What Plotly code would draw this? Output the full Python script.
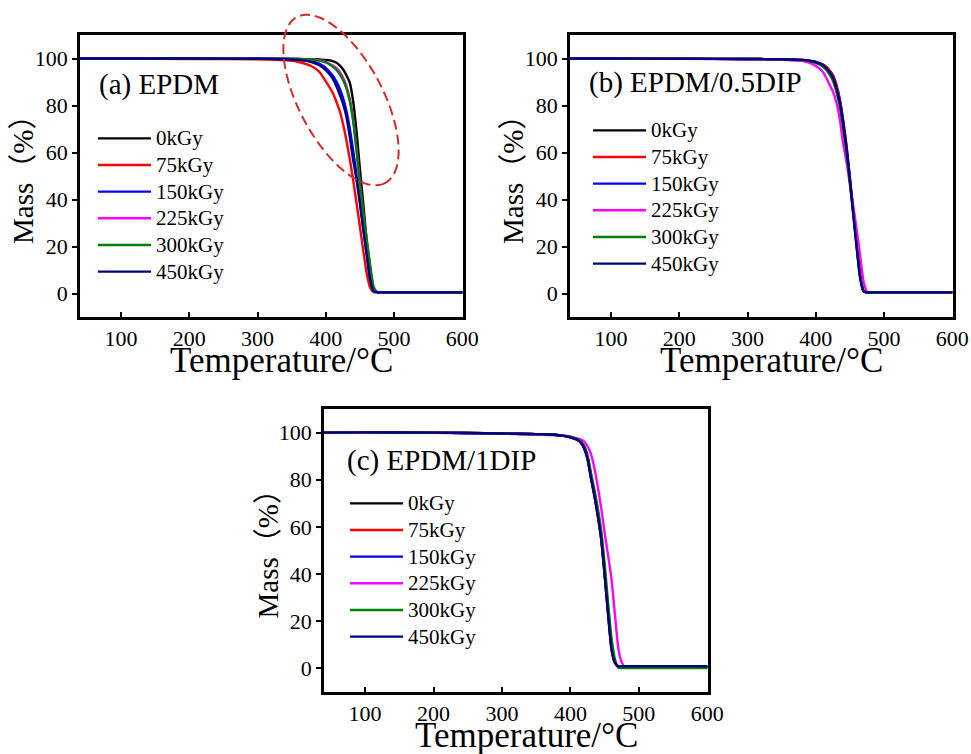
import math
import plotly.graph_objects as go

# Temperature grid (°C) shared by every TGA curve
temperature = [40, 100, 200, 300, 340, 360, 380, 390, 400, 410, 415, 420, 425,
               430, 435, 440, 445, 450, 455, 460, 465, 470, 475, 480, 500, 600]

doses = ["0kGy", "75kGy", "150kGy", "225kGy", "300kGy", "450kGy"]
colors = ["#000000", "#ff0000", "#0000ff", "#ff00ff", "#008000", "#000080"]

# (a) EPDM — residual mass (%)
epdm_0 = [100, 100, 100, 99.9, 99.9, 99.8, 99.7, 99.6, 99.4, 98.9, 98.3, 97.2, 95.5,
          93, 89.8, 82, 69, 53, 38, 22, 7, 1, 0.6, 0.5, 0.5, 0.5]
epdm_75 = [99.9, 99.9, 99.8, 99.7, 99.3, 98.5, 96.6, 94.5, 90.3, 85.5, 82, 78, 72.5,
           65.5, 57.5, 48.5, 38.5, 28.5, 18, 8.5, 2.5, 0.6, 0.5, 0.5, 0.5, 0.5]
epdm_150 = [100, 100, 100, 99.9, 99.8, 99.6, 98.9, 97.8, 96, 92.8, 90.5, 87.5, 83.5,
            78, 70.5, 61, 50.5, 39.5, 28, 17, 6.5, 1, 0.6, 0.5, 0.5, 0.5]
epdm_225 = [100, 100, 100, 99.9, 99.9, 99.8, 99.6, 99.3, 98.6, 97, 96, 94.5, 92,
            88.5, 83, 74.5, 61.5, 46.5, 34, 22.5, 11.5, 2.5, 0.6, 0.5, 0.5, 0.5]
epdm_300 = [100, 100, 100, 99.9, 99.9, 99.8, 99.5, 99.1, 98.3, 96.6, 95.3, 93.5, 91,
            87.5, 82, 73.5, 61, 46, 34, 23, 12, 3, 0.6, 0.5, 0.5, 0.5]
epdm_450 = [100, 100, 100, 99.9, 99.7, 99.4, 98.4, 97.2, 95, 91.5, 88.5, 85, 81,
            75.5, 67, 57, 48.5, 38, 27, 16, 6, 1, 0.6, 0.5, 0.5, 0.5]

# (b) EPDM/0.5DIP
dip05_0 = [100, 100, 99.9, 99.8, 99.7, 99.6, 99.4, 99.1, 98.6, 97.5, 96.5, 95, 93,
           89, 83, 74, 63, 49, 35, 21, 8, 1, 0.5, 0.5, 0.5, 0.5]
dip05_75 = [100, 100, 99.9, 99.8, 99.7, 99.6, 99.4, 99.1, 98.5, 97.3, 96.3, 94.8, 92.6,
            88.5, 82.5, 73.5, 62.5, 49, 35, 21, 8, 1.2, 0.5, 0.5, 0.5, 0.5]
dip05_150 = [100, 100, 99.9, 99.8, 99.7, 99.6, 99.3, 99, 98.3, 97, 95.8, 94, 91.5,
             87, 81, 72, 61, 48, 34, 20, 7, 1, 0.5, 0.5, 0.5, 0.5]
dip05_225 = [100, 100, 99.9, 99.7, 99.5, 99.3, 99, 98.2, 96.8, 94.5, 92, 89, 86,
             81.5, 74.5, 64, 56, 46.5, 37, 27, 16, 5, 0.8, 0.5, 0.5, 0.5]
dip05_300 = [100, 100, 99.9, 99.8, 99.7, 99.6, 99.3, 98.9, 98.1, 96.6, 95.2, 93.2, 90.5,
             86, 80, 71, 60, 47, 33, 19.5, 7, 1, 0.5, 0.5, 0.5, 0.5]
dip05_450 = [100, 100, 99.9, 99.8, 99.7, 99.6, 99.4, 99.1, 98.5, 97.2, 96, 94.3, 92,
             87.5, 81.5, 72.5, 61.5, 48, 34, 19.5, 6.5, 1, 0.5, 0.5, 0.5, 0.5]

# (c) EPDM/1DIP
dip1_0 = [100, 100.1, 100, 99.6, 99.4, 99.3, 99, 98.6, 98, 97, 95.8, 93.3, 88.8,
          80.8, 73.3, 64.8, 54.8, 39.8, 23.3, 8.3, 2.3, 0.6, 0.6, 0.6, 0.6, 0.6]
dip1_75 = [100, 100.1, 100, 99.6, 99.4, 99.3, 99, 98.6, 98, 97, 95.7, 93.2, 88.6,
           80.6, 73.2, 64.6, 54.6, 39.6, 23, 8.2, 2.2, 0.6, 0.6, 0.6, 0.6, 0.6]
dip1_150 = [100, 100.1, 100, 99.6, 99.4, 99.3, 99, 98.6, 98, 97, 96.1, 94, 89.8,
            82, 74.5, 66, 56.5, 41.5, 25, 10, 3, 0.8, 0.7, 0.7, 0.7, 0.7]
dip1_225 = [100, 100, 99.9, 99.5, 99.3, 99.1, 98.9, 98.7, 98.4, 97.5, 97, 96.3, 94.2,
            91, 85, 77, 68, 57.5, 48, 38, 23, 8.5, 2.5, 0.6, 0.6, 0.6]
dip1_300 = [100, 100.1, 100, 99.6, 99.4, 99.3, 99, 98.7, 98.2, 97.2, 96.3, 94.5, 90.5,
            83, 76, 68, 58.5, 44.5, 28, 13, 4, 0.3, 0.2, 0.2, 0.2, 0.2]
dip1_450 = [100, 100.1, 100, 99.6, 99.4, 99.3, 99, 98.6, 98, 97, 96, 93.5, 89,
            81, 73.5, 65, 55, 40, 23.5, 8.5, 2.5, 0.9, 0.9, 0.9, 0.9, 0.9]

panels = [
    ("(a) EPDM", [epdm_0, epdm_75, epdm_150, epdm_225, epdm_300, epdm_450]),
    ("(b) EPDM/0.5DIP", [dip05_0, dip05_75, dip05_150, dip05_225, dip05_300, dip05_450]),
    ("(c) EPDM/1DIP", [dip1_0, dip1_75, dip1_150, dip1_225, dip1_300, dip1_450]),
]

W, H = 971, 754
FONT = "Liberation Serif, 'Noto Sans CJK SC', serif"

def px_x(v):
    return v / W

def px_y(v):
    return 1 - v / H

# plot frames in pixels: (left, top, right, bottom)
frames = [(80, 35, 463, 317), (570, 35, 953, 317), (324, 409, 708, 692)]
legend_pos = [(93, 120), (588, 112), (345, 485)]
label_pos = [(97, 85), (587, 83), (345, 460)]

fig = go.Figure()
layout = dict(
    width=W, height=H, autosize=False,
    margin=dict(l=0, r=0, t=0, b=0, autoexpand=False),
    paper_bgcolor="white", plot_bgcolor="white",
    font=dict(family=FONT, size=21, color="black"),
    annotations=[], shapes=[],
)

for i, (title, series) in enumerate(panels):
    sfx = "" if i == 0 else str(i + 1)
    for name, col, vals in zip(doses, colors, series):
        fig.add_trace(go.Scatter(
            x=temperature, y=vals, mode="lines",
            # legend rows are spaced from the 18px legend font, text drawn at 21px
            name=f'<span style="font-size:21px">{name}</span>',
            line=dict(color=col, width=2.4, shape="spline", smoothing=0.5),
            xaxis="x" + sfx, yaxis="y" + sfx, legend="legend" + sfx,
        ))
    l, t, r, b = frames[i]
    layout["xaxis" + sfx] = dict(
        domain=[px_x(l), px_x(r)], anchor="y" + sfx, range=[40, 601],
        tickvals=[100, 200, 300, 400, 500, 600], ticks="inside", ticklen=5,
        tickwidth=1.5, tickcolor="black", showline=True, linecolor="black",
        linewidth=2.5, mirror=True, showgrid=False, zeroline=False,
        automargin=False,
        tickfont=dict(size=22, family=FONT, color="black"),
    )
    layout["yaxis" + sfx] = dict(
        domain=[px_y(b), px_y(t)], anchor="x" + sfx, range=[-10, 110],
        tickvals=[0, 20, 40, 60, 80, 100], ticks="outside", ticklen=5,
        tickwidth=1.5, tickcolor="black", showline=True, linecolor="black",
        linewidth=2.5, mirror=True, showgrid=False, zeroline=False,
        automargin=False,
        tickfont=dict(size=22, family=FONT, color="black"),
    )
    lx, ly = legend_pos[i]
    layout["legend" + sfx] = dict(
        x=px_x(lx), y=px_y(ly), xanchor="left", yanchor="top",
        bgcolor="rgba(0,0,0,0)", borderwidth=0,
        font=dict(size=18.2, family=FONT, color="black"),
        itemwidth=53, tracegroupgap=0,
    )
    ax, ay = label_pos[i]
    layout["annotations"].append(dict(
        text=title, x=px_x(ax), y=px_y(ay), xref="paper", yref="paper",
        xanchor="left", yanchor="middle", showarrow=False,
        font=dict(size=29, family=FONT, color="black"),
    ))
    # axis titles
    layout["annotations"].append(dict(
        text="Temperature/°C", x=px_x((l + r) / 2 + 10), y=px_y(b + 43),
        xref="paper", yref="paper", xanchor="center", yanchor="middle",
        showarrow=False, font=dict(size=35, family=FONT, color="black"),
    ))
    layout["annotations"].append(dict(
        text="Mass（%）", x=px_x(l - 57), y=px_y((t + b) / 2 - 3),
        xref="paper", yref="paper", xanchor="center", yanchor="middle",
        textangle=-90, showarrow=False,
        font=dict(size=29, family=FONT, color="black"),
    ))

# dashed ellipse highlighting the onset region in panel (a)
cx, cy, ea, eb, tilt = 341, 100, 94, 42, math.radians(62)
pts = []
for k in range(97):
    th = 2 * math.pi * k / 96
    ux, uy = ea * math.cos(th), eb * math.sin(th)
    X = cx + ux * math.cos(tilt) - uy * math.sin(tilt)
    Y = cy + ux * math.sin(tilt) + uy * math.cos(tilt)
    pts.append((px_x(X), px_y(Y)))
path = "M " + " L ".join(f"{x:.5f},{y:.5f}" for x, y in pts) + " Z"
layout["shapes"].append(dict(
    type="path", path=path, xref="paper", yref="paper",
    line=dict(color="#d42a2a", width=2, dash="10px,5px"),
))

fig.update_layout(**layout)
fig.write_html("out.html", config={"responsive": False})
